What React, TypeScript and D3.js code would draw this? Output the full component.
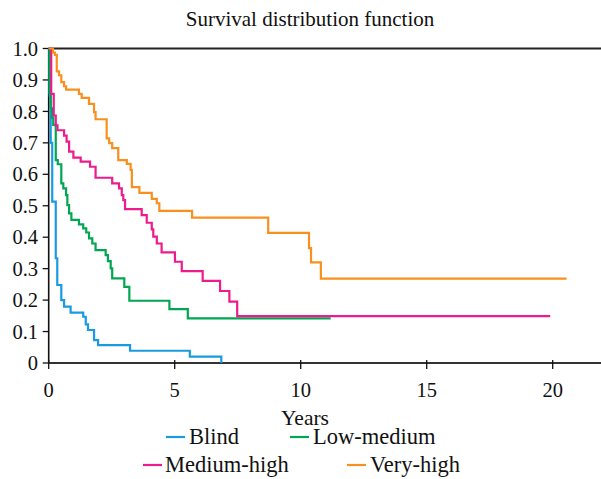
import React from "react";
import * as d3 from "d3";

// survival curves: [years, survival] (step after)
const blind: [number, number][] = [
  [0, 1], [0.04, 0.85], [0.08, 0.7], [0.14, 0.513], [0.28, 0.333], [0.34, 0.248],
  [0.5, 0.2], [0.61, 0.179], [0.87, 0.16], [1.37, 0.147], [1.47, 0.123], [1.56, 0.105],
  [1.8, 0.073], [1.96, 0.057], [3.23, 0.039], [5.6, 0.02], [6.85, 0],
];
const lowMedium: [number, number][] = [
  [0, 1], [0.03, 0.86], [0.08, 0.81], [0.13, 0.78], [0.18, 0.757], [0.28, 0.645],
  [0.36, 0.632], [0.5, 0.571], [0.58, 0.555], [0.69, 0.534], [0.74, 0.502], [0.81, 0.476],
  [0.9, 0.455], [1.2, 0.441], [1.37, 0.428], [1.49, 0.415], [1.6, 0.396], [1.73, 0.38],
  [1.86, 0.359], [2.26, 0.343], [2.35, 0.324], [2.46, 0.301], [2.52, 0.269], [3.0, 0.242],
  [3.2, 0.198], [4.79, 0.171], [5.52, 0.142], [11.19, 0.142],
];
const mediumHigh: [number, number][] = [
  [0, 1], [0.1, 0.856], [0.2, 0.787], [0.28, 0.756], [0.35, 0.74], [0.61, 0.723],
  [0.71, 0.704], [0.81, 0.672], [0.98, 0.653], [1.27, 0.64], [1.64, 0.624], [1.86, 0.589],
  [2.52, 0.571], [2.79, 0.555], [2.9, 0.534], [2.96, 0.518], [3.03, 0.489], [3.69, 0.47],
  [3.89, 0.446], [4.09, 0.425], [4.15, 0.402], [4.29, 0.38], [4.48, 0.352], [5.01, 0.322],
  [5.28, 0.292], [6.11, 0.261], [6.8, 0.229], [7.17, 0.195], [7.48, 0.149], [19.9, 0.149],
];
const veryHigh: [number, number][] = [
  [0, 1], [0.17, 0.987], [0.25, 0.98], [0.32, 0.927], [0.41, 0.915], [0.5, 0.893],
  [0.61, 0.88], [0.69, 0.869], [1.2, 0.856], [1.31, 0.843], [1.6, 0.824], [1.8, 0.798],
  [1.86, 0.775], [2.3, 0.714], [2.4, 0.699], [2.52, 0.683], [2.76, 0.645], [3.1, 0.633],
  [3.25, 0.614], [3.3, 0.559], [3.6, 0.541], [4.09, 0.522], [4.29, 0.508], [4.39, 0.484],
  [5.69, 0.462], [8.71, 0.414], [10.33, 0.365], [10.41, 0.32], [10.8, 0.268], [20.55, 0.268],
];

const seriesNames = ["Blind", "Low-medium", "Medium-high", "Very-high"];
const seriesColors = ["#1a9be0", "#00a651", "#ec1c8c", "#f7901e"];
const seriesData = [blind, lowMedium, mediumHigh, veryHigh];

const xTicks = [0, 5, 10, 15, 20];
const yTicks = [0, 0.1, 0.2, 0.3, 0.4, 0.5, 0.6, 0.7, 0.8, 0.9, 1.0];
const yTickLabels = ["0", "0.1", "0.2", "0.3", "0.4", "0.5", "0.6", "0.7", "0.8", "0.9", "1.0"];

const W = 601;
const H = 479;
const font = "'Liberation Serif', 'Times New Roman', serif";

export default function App() {
  const left = 48.7;
  const x = d3.scaleLinear().domain([0, 22]).range([left, left + 22 * 25.2]);
  const y = d3.scaleLinear().domain([0, 1]).range([363, 48.5]);

  const line = d3.line<[number, number]>()
    .x(d => x(d[0]))
    .y(d => y(d[1]))
    .curve(d3.curveStepAfter);

  // legend layout: two rows
  const legend = [
    { i: 0, sx: 166, tx: 189, ty: 442 },
    { i: 1, sx: 290, tx: 313, ty: 442 },
    { i: 2, sx: 143, tx: 165, ty: 470 },
    { i: 3, sx: 347, tx: 370, ty: 470 },
  ];

  return (
    <svg width={W} height={H} style={{ position: "absolute", left: 0, top: 0, background: "#fff" }}
      fontFamily={font}>
      <text x={310} y={26} textAnchor="middle" fontSize={21} fill="#111">
        Survival distribution function
      </text>

      {/* top frame line */}
      <line x1={left} x2={W} y1={y(1)} y2={y(1)} stroke="#222" strokeWidth={2} />

      {/* y axis */}
      <line x1={left} x2={left} y1={y(1)} y2={y(0)} stroke="#111" strokeWidth={1.6} />
      {yTicks.map((t, i) => (
        <g key={"y" + i}>
          <line x1={left - 6} x2={left} y1={y(t)} y2={y(t)} stroke="#111" strokeWidth={1.3} />
          <text x={38} y={y(t)} dy="0.35em" textAnchor="end" fontSize={20.5} fill="#111">
            {yTickLabels[i]}
          </text>
        </g>
      ))}

      {/* x axis */}
      <line x1={left} x2={W} y1={y(0)} y2={y(0)} stroke="#333" strokeWidth={2} />
      {xTicks.map(t => (
        <g key={"x" + t}>
          <line x1={x(t)} x2={x(t)} y1={y(0) - 3} y2={y(0) + 6} stroke="#111" strokeWidth={1.3} />
          <text x={x(t)} y={397} textAnchor="middle" fontSize={20.5} fill="#111">{t}</text>
        </g>
      ))}
      <text x={305} y={425} textAnchor="middle" fontSize={21.5} fill="#111">Years</text>

      {/* curves */}
      {seriesData.map((d, i) => (
        <path key={seriesNames[i]} d={line(d) || ""} fill="none" stroke={seriesColors[i]}
          strokeWidth={2.2} />
      ))}

      {/* legend */}
      {legend.map(l => (
        <g key={"l" + l.i}>
          <line x1={l.sx} x2={l.sx + 19} y1={l.ty - 5} y2={l.ty - 5}
            stroke={seriesColors[l.i]} strokeWidth={2.2} />
          <text x={l.tx} y={l.ty + 2} fontSize={22.5} fill="#111">{seriesNames[l.i]}</text>
        </g>
      ))}
    </svg>
  );
}
